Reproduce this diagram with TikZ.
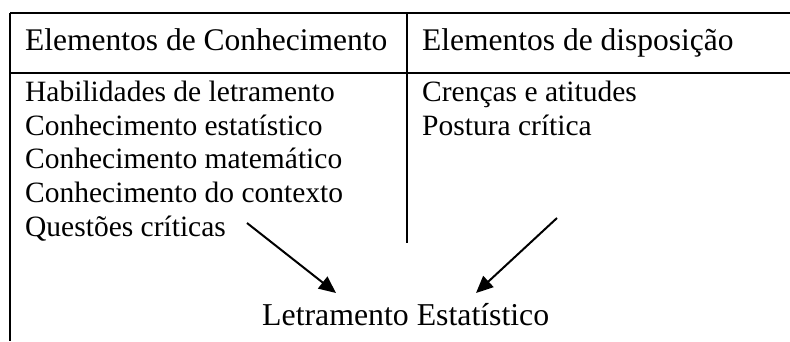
\documentclass[tikz,border=0pt]{standalone}
\usepackage{fontspec}
\setmainfont{Liberation Serif}
\usetikzlibrary{arrows.meta}
\begin{document}
\begin{tikzpicture}[x=1pt,y=-1pt,
  rule/.style={line width=2pt},
  txt/.style={anchor=base west,inner sep=0pt,font=\fontsize{29.5}{33}\selectfont},
  head/.style={anchor=base west,inner sep=0pt,font=\fontsize{31.5}{36}\selectfont},
  big/.style={anchor=base west,inner sep=0pt,font=\fontsize{31.8}{36}\selectfont},
  arr/.style={line width=2pt,-{Triangle[length=17pt,width=15pt]}}]
\useasboundingbox (0,0) rectangle (790,341);
% table rules
\draw[rule] (10,13) -- (790,13);
\draw[rule] (10,73) -- (790,73);
\draw[rule] (10,13) -- (10,341);
\draw[rule] (407,13) -- (407,243);
% headers
\node[head] (h1) at (25,50) {Elementos de Conhecimento};
\node[head] (h2) at (422,50) {Elementos de disposição};
% left column
\node[txt] (l1) at (25,101.7) {Habilidades de letramento};
\node[txt] (l2) at (25,135.3) {Conhecimento estatístico};
\node[txt] (l3) at (25,168.9) {Conhecimento matemático};
\node[txt] (l4) at (25,202.5) {Conhecimento do contexto};
\node[txt] (l5) at (25,236) {Questões críticas};
% right column
\node[txt] (r1) at (422,101.7) {Crenças e atitudes};
\node[txt] (r2) at (422,135.3) {Postura crítica};
% result
\node[big] (res) at (262,325.7) {Letramento Estatístico};
% arrows
\coordinate (a1s) at (247,223);
\coordinate (a1e) at (336,293);
\coordinate (a2s) at (557,218);
\coordinate (a2e) at (476,293);
\draw[arr] (a1s) -- (a1e);
\draw[arr] (a2s) -- (a2e);
\end{tikzpicture}
\end{document}
